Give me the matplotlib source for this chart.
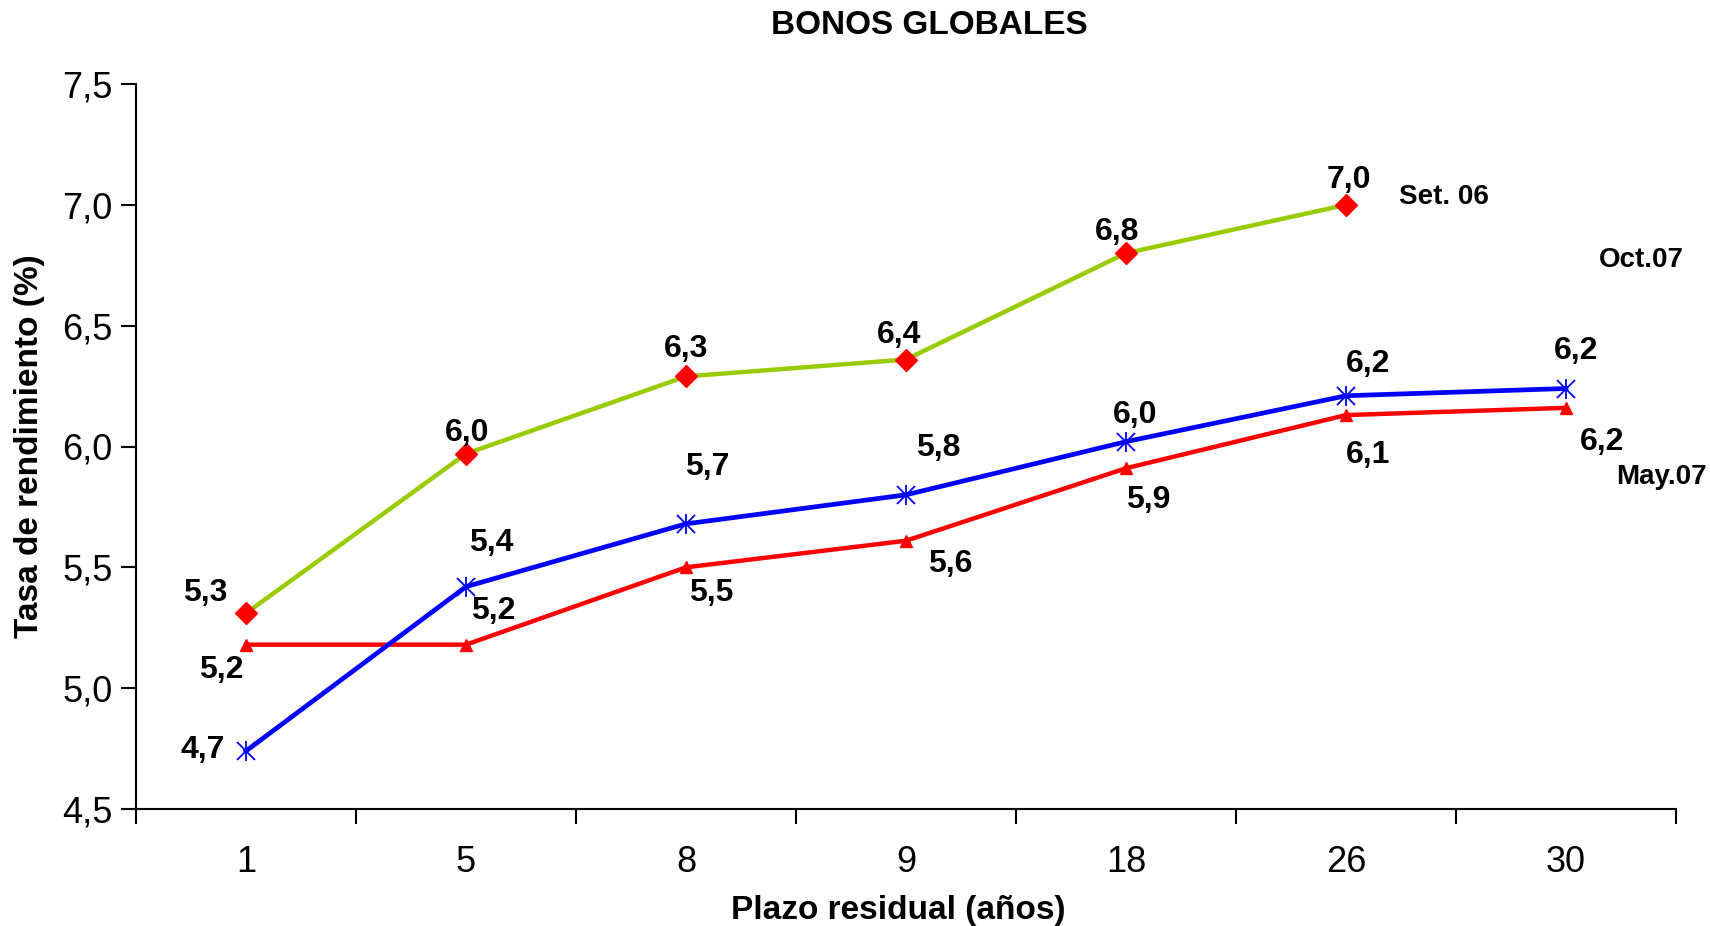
import numpy as np
import matplotlib
matplotlib.use("Agg")
import matplotlib.pyplot as plt

plt.rcParams['font.family'] = ['Liberation Sans', 'DejaVu Sans']

# Plazo residual (años) de cada bono
plazos = ["1", "5", "8", "9", "18", "26", "30"]

# Tasa de rendimiento (%) por fecha
set06 = [5.31, 5.97, 6.29, 6.36, 6.80, 7.00]
oct07 = [4.74, 5.42, 5.68, 5.80, 6.02, 6.21, 6.24]
may07 = [5.18, 5.18, 5.50, 5.61, 5.91, 6.13, 6.16]

# offsets (pixels) for the value labels
offSet06 = [(-41, 20), (1, 21), (0, 27), (-7, 24), (-9, 21), (3, 25)]
offOct07 = [(-43, 1), (25, 44), (21, 57), (32, 47), (9, 27), (22, 32), (10, 37)]
offMay07 = [(-25, -25), (27, 34), (25, -26), (44, -23), (22, -32), (22, -40), (36, -34)]

W, H = 1710, 926
fig = plt.figure(figsize=(W / 100, H / 100), dpi=100)
ax = fig.add_axes([136 / W, 1 - 809 / H, (1676 - 136) / W, (809 - 84) / H])

x = np.arange(len(plazos))

ax.plot(x[:len(set06)], set06, color='#99CC00', lw=3.2, marker='D', ms=11,
        mfc='#FF0000', mec='#FF0000', zorder=3)
ax.plot(x, may07, color='#FF0000', lw=3.2, marker='^', ms=8,
        mfc='#FF0000', mec='#FF0000', zorder=3)
ax.plot(x, oct07, color='#0000FF', lw=3.4, zorder=4)
# star marker: an x with a vertical bar
ax.plot(x, oct07, ls='none', marker='x', ms=13, mec='#0000FF', mew=1.3, zorder=5)
ax.plot(x, oct07, ls='none', marker='|', ms=14, mec='#0000FF', mew=1.3, zorder=5)


def labelSeries(vals, offsets):
    for xi, v, off in zip(x, vals, offsets):
        ax.annotate(f"{v:.1f}".replace(".", ","), (xi, v), xytext=off,
                    textcoords='offset pixels', ha='center', va='center',
                    fontsize=23, fontweight='bold', zorder=6)


labelSeries(set06, offSet06)
labelSeries(oct07, offOct07)
labelSeries(may07, offMay07)

ax.set_xlim(-0.5, len(plazos) - 0.5)
ax.set_ylim(4.5, 7.5)
ax.set_yticks(np.arange(4.5, 7.51, 0.5))
ax.set_yticklabels([f"{v:.1f}".replace(".", ",") for v in np.arange(4.5, 7.51, 0.5)])

# ticks at category boundaries, labels at centers
ax.set_xticks(np.arange(-0.5, len(plazos)), labels=[])
ax.set_xticks(x, labels=plazos, minor=True)
ax.tick_params(axis='x', which='major', length=11, width=1.5, direction='out')
ax.tick_params(axis='x', which='minor', length=0, pad=26, labelsize=26)
ax.tick_params(axis='y', length=11, width=1.5, pad=6, labelsize=26)

for s in ['top', 'right']:
    ax.spines[s].set_visible(False)
for s in ['left', 'bottom']:
    ax.spines[s].set_linewidth(1.5)

fig.text(929 / W, 1 - 26 / H, "BONOS GLOBALES", ha='center', va='center',
         fontsize=24, fontweight='bold')
fig.text(898 / W, 1 - 911 / H, "Plazo residual (años)", ha='center', va='center',
         fontsize=24, fontweight='bold')
fig.text(30 / W, 1 - 446 / H, "Tasa de rendimiento (%)", ha='center', va='center',
         rotation=90, fontsize=24, fontweight='bold')

fig.text(1444 / W, 1 - 197 / H, "Set. 06", ha='center', va='center', fontsize=20, fontweight='bold')
fig.text(1641 / W, 1 - 260 / H, "Oct.07", ha='center', va='center', fontsize=20, fontweight='bold')
fig.text(1661 / W, 1 - 477 / H, "May.07", ha='center', va='center', fontsize=20, fontweight='bold')

fig.savefig("out.png", dpi=100)
print("Done")
